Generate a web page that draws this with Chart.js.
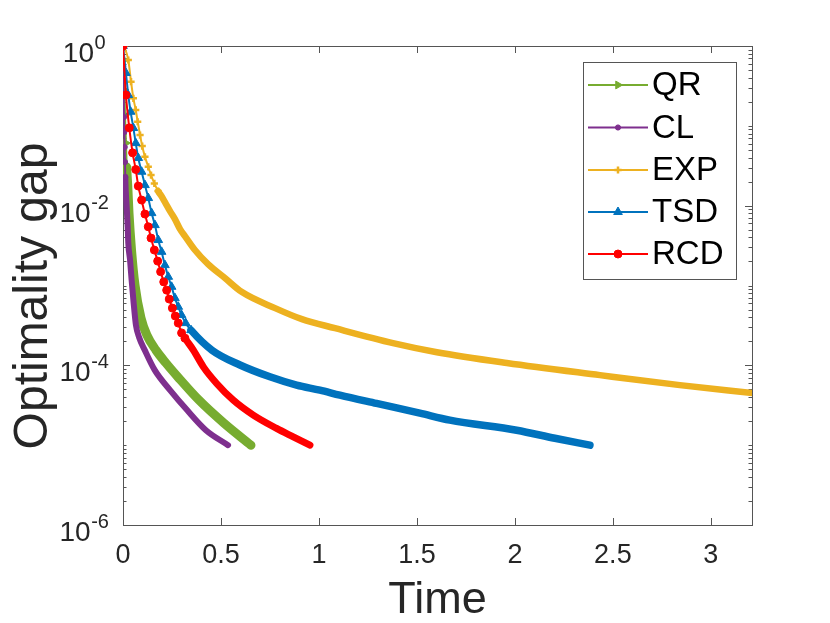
<!DOCTYPE html>
<html>
<head>
<meta charset="utf-8">
<script src="https://cdn.jsdelivr.net/npm/chart.js@4.4.1/dist/chart.umd.min.js"></script>
<style>
    html, body { margin: 0; padding: 0; background: #fff; }
    #wrap { width: 830px; height: 623px; position: relative; }
</style>
</head>
<body>
<div id="wrap"><canvas id="gap-chart"></canvas></div>
<script>
// values (time, optimality gap)
const qrTime = [0.005, 0.0077, 0.0102, 0.0153, 0.0189, 0.024, 0.0306, 0.0434, 0.0612, 0.0918, 0.122, 0.168, 0.219, 0.281, 0.388, 0.515, 0.653];
const qrGap = [0.668, 0.281, 0.1365, 0.0608, 0.0305, 0.0181, 0.00807, 0.00278, 0.00101, 3.9e-4, 2.39e-4, 1.55e-4, 1.07e-4, 7.11e-5, 3.66e-5, 1.89e-5, 1.0e-5];

const clTime = [0.001, 0.0015, 0.0036, 0.0051, 0.0066, 0.0087, 0.0102, 0.0117, 0.0138, 0.0189, 0.024, 0.027, 0.036, 0.044, 0.053, 0.066, 0.082, 0.111, 0.162, 0.240, 0.327, 0.423, 0.536];
const clGap = [0.561, 0.375, 0.243, 0.129, 0.0836, 0.0542, 0.0352, 0.0228, 0.01567, 0.00959, 0.00539, 0.0034, 0.00208, 0.00117, 6.56e-4, 3.19e-4, 2.25e-4, 1.55e-4, 8.7e-5, 4.89e-5, 2.75e-5, 1.54e-5, 1.0e-5];

const expTime = [0.005, 0.027, 0.041, 0.053, 0.065, 0.075, 0.087, 0.098, 0.112, 0.129, 0.143, 0.160, 0.179, 0.196, 0.214, 0.240, 0.265, 0.291, 0.316, 0.367, 0.434, 0.520, 0.607, 0.776, 0.913, 1.082, 1.378, 1.602, 1.959, 2.434, 2.842, 3.214];
const expGap = [1, 0.668, 0.357, 0.221, 0.158, 0.1125, 0.0767, 0.0558, 0.0410, 0.0307, 0.0242, 0.0190, 0.01524, 0.01319, 0.01109, 0.00855, 0.00679, 0.00509, 0.00416, 0.00278, 0.00185, 0.00124, 8.27e-4, 5.21e-4, 3.79e-4, 2.92e-4, 1.90e-4, 1.46e-4, 1.07e-4, 7.54e-5, 5.65e-5, 4.48e-5];

const tsdTime = [0, 0.015, 0.027, 0.039, 0.053, 0.065, 0.078, 0.095, 0.112, 0.129, 0.146, 0.163, 0.180, 0.197, 0.214, 0.231, 0.248, 0.265, 0.282, 0.299, 0.320, 0.347, 0.454, 0.597, 0.750, 0.886, 1.005, 1.107, 1.294, 1.515, 1.668, 2.009, 2.204, 2.383];
const tsdGap = [1, 0.459, 0.243, 0.150, 0.0938, 0.0608, 0.0395, 0.0266, 0.0181, 0.01245, 0.00807, 0.00571, 0.00371, 0.00264, 0.0018, 0.001285, 9.63e-4, 6.95e-4, 5.41e-4, 4.26e-4, 3.38e-4, 2.76e-4, 1.55e-4, 1.01e-4, 7.18e-5, 5.65e-5, 4.89e-5, 4.23e-5, 3.33e-5, 2.52e-5, 2.06e-5, 1.54e-5, 1.22e-5, 1.0e-5];

const rcdTime = [0, 0.015, 0.032, 0.049, 0.065, 0.078, 0.095, 0.112, 0.129, 0.143, 0.160, 0.177, 0.192, 0.208, 0.223, 0.236, 0.252, 0.267, 0.282, 0.299, 0.316, 0.359, 0.410, 0.478, 0.563, 0.665, 0.784, 0.869, 0.954];
const rcdGap = [1, 0.243, 0.0944, 0.0459, 0.0284, 0.0176, 0.01175, 0.00785, 0.00544, 0.00393, 0.00278, 0.00202, 0.00149, 0.00111, 8.75e-4, 6.76e-4, 5.21e-4, 4.14e-4, 3.38e-4, 2.55e-4, 2.19e-4, 1.55e-4, 9.57e-5, 5.93e-5, 3.66e-5, 2.38e-5, 1.62e-5, 1.27e-5, 1.0e-5];

const xTicks = [0, 0.5, 1, 1.5, 2, 2.5, 3];
const yTickExps = [0, -2, -4, -6];

const FONT = '"Liberation Sans", Arial, Helvetica, sans-serif';
const INK = '#262626';
const AXIS = '#555555';

function toPoints(t, g) {
    return t.map((x, i) => ({ x: x, y: g[i] }));
}

// markN: how many leading points still show distinct markers; after that the
// markers pile up into a solid band, so the line is drawn thick instead
function series(label, t, g, color, style, radius, markN, thick, rot, order) {
    return {
        label: label,
        data: toPoints(t, g),
        order: order,
        borderColor: color,
        backgroundColor: color,
        pointStyle: style,
        pointRotation: rot,
        pointBorderColor: color,
        pointBackgroundColor: color,
        pointBorderWidth: style === 'cross' ? 2.5 : 1,
        pointRadius: ctx => ctx.dataIndex < markN ? radius : 0,
        borderWidth: 2,
        segment: { borderWidth: ctx => ctx.p0DataIndex >= markN - 1 ? thick : 2 },
        borderCapStyle: 'round',
        borderJoinStyle: 'round',
        cubicInterpolationMode: 'monotone',
        fill: false,
        legendRadius: radius
    };
}

const datasets = [
    series('QR', qrTime, qrGap, '#77AC30', 'triangle', 4.5, 5, 9, 90, 4),
    series('CL', clTime, clGap, '#7E2F8E', 'circle', 2.6, 8, 6, 0, 3),
    series('EXP', expTime, expGap, '#EDB120', 'cross', 3.6, 13, 6.5, 0, 2),
    series('TSD', tsdTime, tsdGap, '#0072BD', 'triangle', 5, 22, 7.5, 0, 1),
    series('RCD', rcdTime, rcdGap, '#FF0000', 'circle', 4, 21, 7, 0, 0)
];

function drawMarker(ctx, ds, x, y) {
    const opts = {
        pointStyle: ds.pointStyle,
        rotation: ds.pointRotation,
        radius: ds.legendRadius,
        borderWidth: ds.pointBorderWidth
    };
    ctx.save();
    ctx.fillStyle = ds.pointBackgroundColor;
    ctx.strokeStyle = ds.pointBorderColor;
    ctx.lineWidth = opts.borderWidth;
    if (Chart.helpers && Chart.helpers.drawPoint) {
        Chart.helpers.drawPoint(ctx, opts, x, y);
    } else {
        ctx.beginPath();
        ctx.arc(x, y, opts.radius, 0, Math.PI * 2);
        ctx.fill();
    }
    ctx.restore();
}

const matlabAxes = {
    id: 'matlabAxes',
    beforeDatasetsDraw(chart) {
        const { ctx, chartArea: a, scales } = chart;
        const xs = scales.x, ys = scales.y;
        ctx.save();
        ctx.strokeStyle = AXIS;
        ctx.lineWidth = 1;
        ctx.strokeRect(a.left + 0.5, a.top + 0.5, a.right - a.left, a.bottom - a.top);
        ctx.beginPath();
        xTicks.forEach(v => {
            const px = Math.round(xs.getPixelForValue(v)) + 0.5;
            ctx.moveTo(px, a.bottom); ctx.lineTo(px, a.bottom - 7);
            ctx.moveTo(px, a.top); ctx.lineTo(px, a.top + 7);
        });
        for (let e = -6; e <= 0; e++) {
            const major = yTickExps.includes(e);
            const py = Math.round(ys.getPixelForValue(Math.pow(10, e))) + 0.5;
            const len = major ? 7 : 3.5;
            ctx.moveTo(a.left, py); ctx.lineTo(a.left + len, py);
            ctx.moveTo(a.right, py); ctx.lineTo(a.right - len, py);
            if (e === 0) continue;
            for (let m = 2; m <= 9; m++) {
                const pm = Math.round(ys.getPixelForValue(m * Math.pow(10, e))) + 0.5;
                ctx.moveTo(a.left, pm); ctx.lineTo(a.left + 3.5, pm);
                ctx.moveTo(a.right, pm); ctx.lineTo(a.right - 3.5, pm);
            }
        }
        ctx.stroke();

        // tick labels
        ctx.fillStyle = INK;
        ctx.font = '27px ' + FONT;
        ctx.textAlign = 'center';
        ctx.textBaseline = 'alphabetic';
        xTicks.forEach(v => {
            ctx.fillText(String(v), xs.getPixelForValue(v), a.bottom + 38);
        });
        yTickExps.forEach(e => {
            const py = ys.getPixelForValue(Math.pow(10, e));
            const base = '10', sup = String(e);
            ctx.font = '28px ' + FONT;
            const wb = ctx.measureText(base).width;
            ctx.font = '20px ' + FONT;
            const ws = ctx.measureText(sup).width;
            const x0 = 84 - (wb + ws) / 2;
            ctx.textAlign = 'left';
            ctx.font = '28px ' + FONT;
            ctx.fillText(base, x0, py + 16);
            ctx.font = '20px ' + FONT;
            ctx.fillText(sup, x0 + wb + 0.5, py + 3);
        });

        // axis titles
        ctx.textAlign = 'center';
        ctx.font = '45px ' + FONT;
        ctx.fillText('Time', (a.left + a.right) / 2, 613);
        ctx.save();
        ctx.translate(47, 296);
        ctx.rotate(-Math.PI / 2);
        ctx.font = '48px ' + FONT;
        ctx.fillText('Optimality gap', 0, 0);
        ctx.restore();
        ctx.restore();
    },
    afterDatasetsDraw(chart) {
        const { ctx } = chart;
        ctx.save();
        ctx.fillStyle = '#ffffff';
        ctx.fillRect(583, 62, 153, 217);
        ctx.strokeStyle = AXIS;
        ctx.lineWidth = 1;
        ctx.strokeRect(583.5, 62.5, 153, 217);
        const rows = [85, 127.5, 170, 212, 254];
        chart.data.datasets.forEach((ds, i) => {
            const y = rows[i];
            ctx.strokeStyle = ds.borderColor;
            ctx.lineWidth = 2;
            ctx.beginPath();
            ctx.moveTo(588, y); ctx.lineTo(648, y);
            ctx.stroke();
            drawMarker(ctx, ds, 618, y);
            ctx.fillStyle = '#000000';
            ctx.font = '33px ' + FONT;
            ctx.textAlign = 'left';
            ctx.textBaseline = 'middle';
            ctx.fillText(ds.label, 652, y + 1);
        });
        ctx.restore();
    }
};

document.addEventListener('DOMContentLoaded', () => {
    const ctx = document.getElementById('gap-chart').getContext('2d');
    new Chart(ctx, {
        type: 'line',
        data: { datasets: datasets },
        options: {
            responsive: true,
            maintainAspectRatio: false,
            animation: false,
            events: [],
            layout: { padding: { left: 123, right: 78, top: 46, bottom: 98 } },
            scales: {
                x: { type: 'linear', min: 0, max: 3.21, display: false },
                y: { type: 'logarithmic', min: 1e-6, max: 1, display: false }
            },
            plugins: {
                legend: { display: false },
                tooltip: { enabled: false }
            }
        },
        plugins: [matlabAxes]
    });
});
</script>
</body>
</html>
